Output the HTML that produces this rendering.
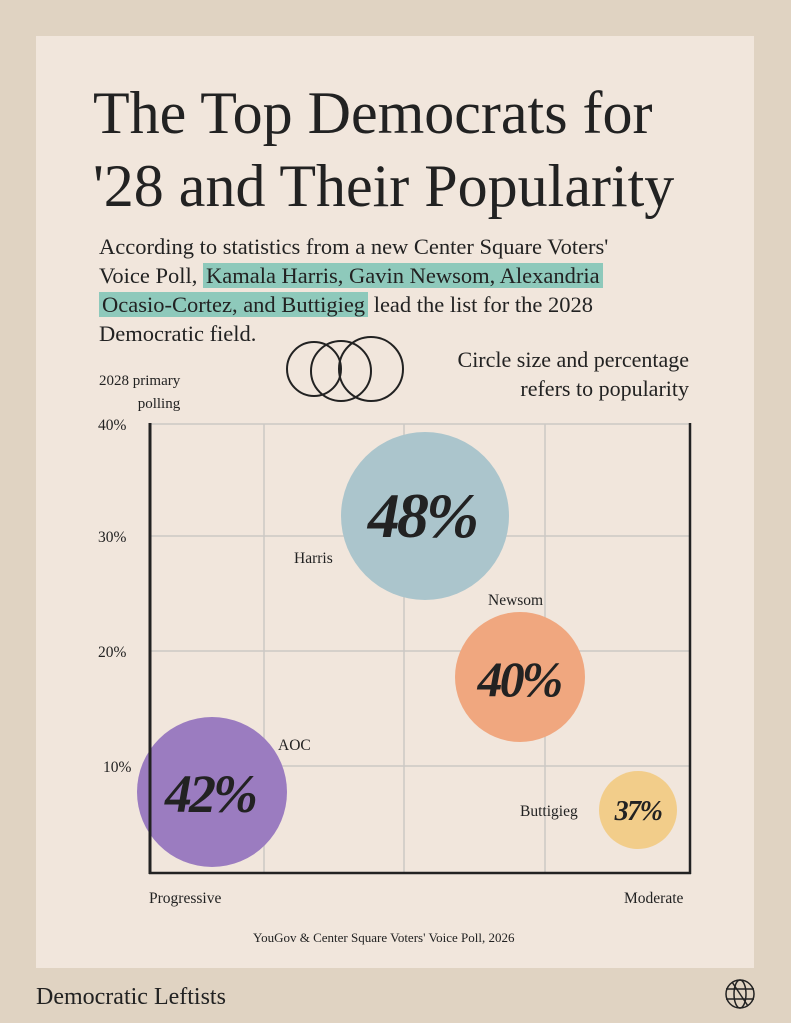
<!DOCTYPE html>
<html><head><meta charset="utf-8"><style>
body{margin:0;width:791px;height:1023px;background:#e0d3c2;position:relative;overflow:hidden;font-family:"Liberation Serif",serif;color:#222}
.card{position:absolute;left:36px;top:36px;width:718px;height:932px;background:#f1e6dc}
.t{position:absolute;white-space:nowrap}
h1{position:absolute;left:93px;top:77px;margin:0;font-weight:normal;font-size:60px;line-height:73px;letter-spacing:0px;color:#222}
.sub{position:absolute;left:99px;top:232px;font-size:22.5px;line-height:29px;width:600px}
.hl{background:#8ec9bb;padding:0 3px}
</style></head><body>
<div class="card"></div>
<h1>The Top Democrats for<br>'28 and Their Popularity</h1>
<div class="sub">According to statistics from a new Center Square Voters'<br>Voice Poll, <span class="hl">Kamala Harris, Gavin Newsom, Alexandria</span><br><span class="hl">Ocasio-Cortez, and Buttigieg</span> lead the list for the 2028<br>Democratic field.</div>
<div class="t" style="right:102px;top:345px;font-size:22px;line-height:29px;text-align:right">Circle size and percentage<br>refers to popularity</div>
<div class="t" style="left:99px;top:370px;font-size:15px;line-height:23px;text-align:right">2028 primary<br>polling</div>
<svg width="791" height="1023" style="position:absolute;left:0;top:0">
<g fill="none" stroke="#222" stroke-width="2"><circle cx="314" cy="369" r="27"/><circle cx="341" cy="371" r="30"/><circle cx="371" cy="369" r="32"/></g>
<g stroke="#ccc8c4" stroke-width="1.5"><line x1="150" y1="424" x2="690" y2="424"/><line x1="150" y1="536" x2="690" y2="536"/><line x1="150" y1="651" x2="690" y2="651"/><line x1="150" y1="766" x2="690" y2="766"/><line x1="264" y1="424" x2="264" y2="873"/><line x1="404" y1="424" x2="404" y2="873"/><line x1="545" y1="424" x2="545" y2="873"/></g>
<circle cx="425" cy="516" r="84" fill="#abc5cc"/>
<circle cx="520" cy="677" r="65" fill="#f0a77f"/>
<circle cx="212" cy="792" r="75" fill="#9b7cc0"/>
<circle cx="638" cy="810" r="39" fill="#f2cd8a"/>
<g stroke="#222"><line x1="150" y1="423" x2="150" y2="874" stroke-width="3"/><line x1="149" y1="873" x2="691" y2="873" stroke-width="2.5"/><line x1="690" y1="423" x2="690" y2="874" stroke-width="2.5"/></g>
<g font-family="Liberation Serif,serif" font-style="italic" font-weight="bold" fill="#222" text-anchor="middle" letter-spacing="-3">
<text x="422" y="537" font-size="64">48%</text>
<text x="519" y="696" font-size="50">40%</text>
<text x="210" y="812" font-size="54">42%</text>
<text x="638" y="820" font-size="28" letter-spacing="-1.5">37%</text>
</g>
<g font-family="Liberation Serif,serif" font-size="15.5" fill="#222">
<text x="98" y="430">40%</text><text x="98" y="542">30%</text><text x="98" y="657">20%</text><text x="103" y="772">10%</text>
<text x="294" y="563">Harris</text><text x="488" y="605">Newsom</text><text x="278" y="750">AOC</text><text x="520" y="816">Buttigieg</text>
<text x="149" y="903">Progressive</text><text x="624" y="903">Moderate</text>
<text x="253" y="942" font-size="13">YouGov &amp; Center Square Voters' Voice Poll, 2026</text>
<text x="36" y="1004" font-size="24">Democratic Leftists</text>
</g>
<g fill="none" stroke="#222" stroke-width="1.5"><circle cx="740" cy="994" r="14"/><ellipse cx="740" cy="994" rx="6" ry="14"/><line x1="726" y1="989" x2="754" y2="989"/><line x1="726" y1="999" x2="754" y2="999"/><line x1="732" y1="982" x2="748" y2="1006"/></g>
</svg>
</body></html>
